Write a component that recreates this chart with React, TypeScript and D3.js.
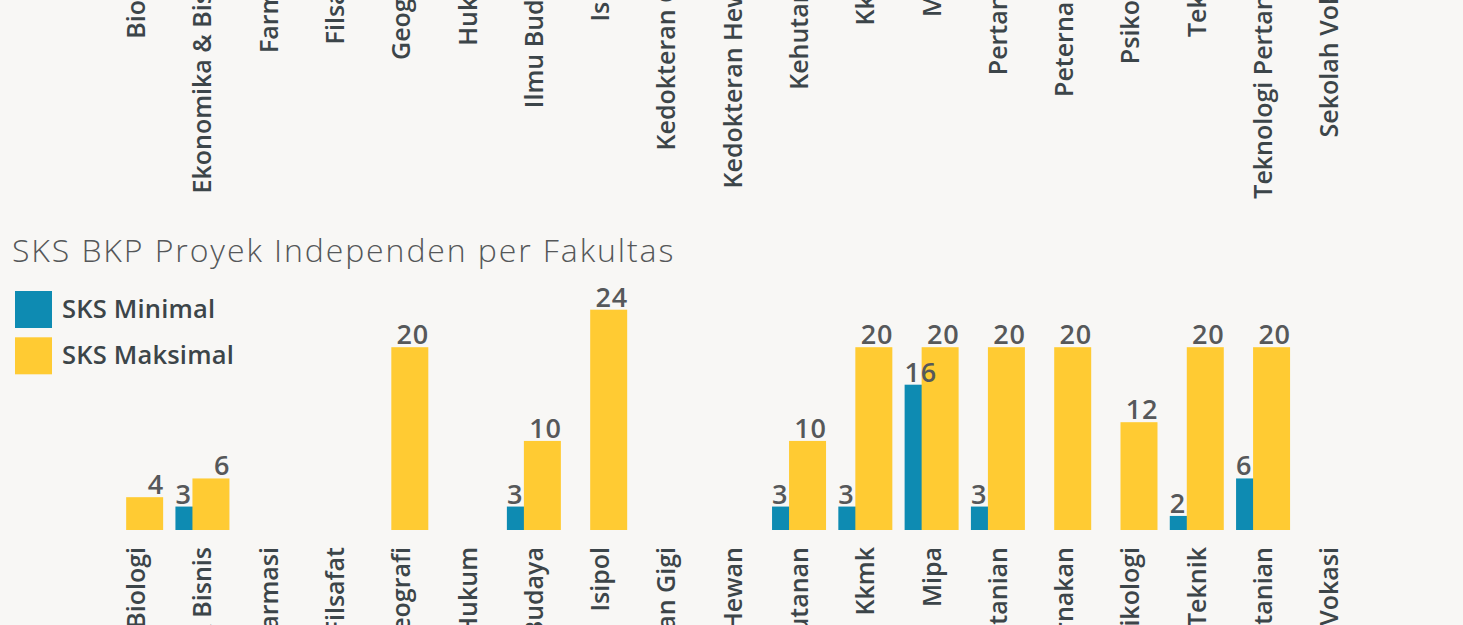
import React from "react";
import * as d3 from "d3";

const categories = [
  "Biologi",
  "Ekonomika & Bisnis",
  "Farmasi",
  "Filsafat",
  "Geografi",
  "Hukum",
  "Ilmu Budaya",
  "Isipol",
  "Kedokteran Gigi",
  "Kedokteran Hewan",
  "Kehutanan",
  "Kkmk",
  "Mipa",
  "Pertanian",
  "Peternakan",
  "Psikologi",
  "Teknik",
  "Teknologi Pertanian",
  "Sekolah Vokasi",
];
const sksMinimal = [0, 3, 0, 0, 0, 0, 3, 0, 0, 0, 3, 3, 16, 3, 0, 0, 2, 6, 0];
const sksMaksimal = [4, 6, 0, 0, 20, 0, 10, 24, 0, 0, 10, 20, 20, 20, 20, 12, 20, 20, 0];
const seriesNames = ["SKS Minimal", "SKS Maksimal"];
const title = "SKS BKP Proyek Independen per Fakultas";

const W = 1463;
const H = 625;
const BG = "#f8f7f5";
const BLUE = "#0e8bb2";
const YELLOW = "#ffcb33";
const LABEL = "#3c4549";
const VALUE = "#56585a";
const FONT = "'Open Sans', 'DejaVu Sans', sans-serif";

export default function App() {
  const x = d3
    .scaleBand<string>()
    .domain(categories)
    .range([103, 1362.5])
    .paddingInner(0.1854)
    .paddingOuter(0.0927);
  const bw = x.bandwidth();
  const subW = bw * 0.685;
  const offset = bw - subW;
  const baseY = 530;
  const y = d3.scaleLinear().domain([0.5, 24]).range([baseY, 309.7]);

  const labelEndY = 547;
  const prevLabelEndY = -43;
  const valLS = 0.8;

  return (
    <svg
      width={W}
      height={H}
      style={{ position: "absolute", left: 0, top: 0, background: BG, display: "block" }}
      fontFamily={FONT}
    >
      <rect x={0} y={0} width={W} height={H} fill={BG} />
      {/* axis labels of the chart above (cropped) */}
      <g>
        {categories.map((c) => {
          const cx = (x(c) as number) + bw / 2;
          return (
            <text
              key={"p" + c}
              transform={`translate(${cx},${prevLabelEndY}) rotate(-90)`}
              textAnchor="end"
              dy="0.36em"
              fontSize={25}
              fontWeight={600}
              fill={LABEL}
            >
              {c}
            </text>
          );
        })}
      </g>

      {/* title */}
      <text x={12} y={262} fontSize={32} fontWeight={300} letterSpacing={1.9} fill="#555759">
        {title}
      </text>

      {/* legend */}
      {seriesNames.map((s, i) => (
        <g key={s} transform={`translate(15,${291 + i * 46.3})`}>
          <rect width={37} height={37} fill={i === 0 ? BLUE : YELLOW} />
          <text x={47} y={27} fontSize={25.5} fontWeight={600} letterSpacing={0.2} fill={LABEL}>
            {s}
          </text>
        </g>
      ))}

      {/* bars */}
      <g>
        {categories.map((c, i) => {
          const x0 = x(c) as number;
          const mn = sksMinimal[i];
          const mx = sksMaksimal[i];
          return (
            <g key={"b" + c}>
              {mn > 0 && (
                <rect x={x0} y={y(mn)} width={subW} height={baseY - y(mn)} fill={BLUE} />
              )}
              {mx > 0 && (
                <rect x={x0 + offset} y={y(mx)} width={subW} height={baseY - y(mx)} fill={YELLOW} />
              )}
              {mn > 0 && (
                <text
                  x={x0}
                  y={y(mn) - 3}
                  textAnchor="start"
                  fontSize={27}
                  fontWeight={600}
                  letterSpacing={valLS}
                  fill={VALUE}
                >
                  {mn}
                </text>
              )}
              {mx > 0 && (
                <text
                  x={x0 + bw + valLS}
                  y={y(mx) - 3}
                  textAnchor="end"
                  fontSize={27}
                  fontWeight={600}
                  letterSpacing={valLS}
                  fill={VALUE}
                >
                  {mx}
                </text>
              )}
            </g>
          );
        })}
      </g>

      {/* category labels */}
      <g>
        {categories.map((c) => {
          const cx = (x(c) as number) + bw / 2;
          return (
            <text
              key={"l" + c}
              transform={`translate(${cx},${labelEndY}) rotate(-90)`}
              textAnchor="end"
              dy="0.36em"
              fontSize={25}
              fontWeight={600}
              fill={LABEL}
            >
              {c}
            </text>
          );
        })}
      </g>
    </svg>
  );
}
